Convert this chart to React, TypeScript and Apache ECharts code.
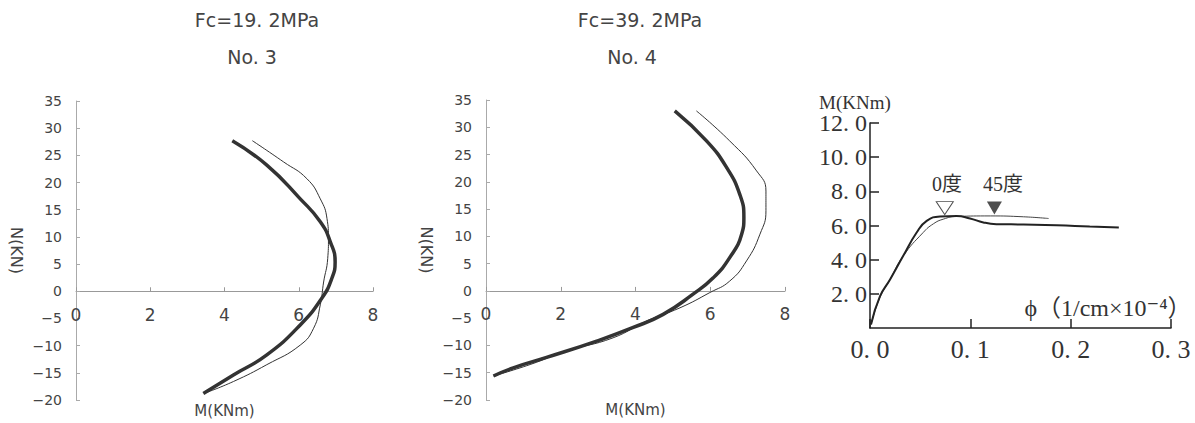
import React, { useEffect, useRef } from "react";
import * as echarts from "echarts";

// No. 3 (Fc=19.2MPa) : M(KNm) vs N(KN)
const no3ThickM = [3.43, 4.24, 5.14, 6.04, 6.62, 6.89, 6.98, 6.85, 6.58, 6.04, 5.14, 4.21];
const no3ThickN = [-18.8, -15.4, -11.7, -6.2, -1.3, 2.35, 5.4, 9.1, 12.8, 17.0, 23.2, 27.7];
const no3ThinM = [3.48, 4.24, 5.14, 6.04, 6.4, 6.58, 6.67, 6.78, 6.8, 6.76, 6.58, 6.22, 5.59, 4.75];
const no3ThinN = [-18.7, -16.6, -13.5, -9.9, -6.8, -2.5, 1.7, 6.0, 9.7, 13.4, 17.0, 20.7, 23.8, 27.7];

// No. 4 (Fc=39.2MPa)
const no4ThickM = [0.2, 0.73, 1.62, 2.96, 3.94, 4.74, 5.54, 6.08, 6.52, 6.84, 6.9, 6.79, 6.44, 5.9, 5.05];
const no4ThickN = [-15.6, -14.1, -12.2, -9.2, -6.7, -4.3, -0.6, 2.4, 6.1, 10.4, 13.5, 17.7, 22.6, 27.5, 33.0];
const no4ThinM = [0.2, 1.18, 2.16, 3.4, 4.3, 5.19, 5.99, 6.52, 6.97, 7.33, 7.49, 7.49, 7.24, 6.52, 5.63];
const no4ThinN = [-15.6, -13.5, -11.0, -8.6, -5.5, -3.1, -0.3, 1.8, 5.5, 10.4, 14.7, 18.3, 22.0, 27.5, 33.0];

// Moment - curvature
const mcThickPhi = [0.001, 0.01, 0.02, 0.033, 0.0465, 0.0565, 0.0698, 0.0864, 0.0997, 0.113, 0.126, 0.153, 0.186, 0.219, 0.248];
const mcThickM = [0.2, 1.86, 2.84, 4.21, 5.59, 6.27, 6.53, 6.56, 6.41, 6.18, 6.08, 6.06, 6.02, 5.94, 5.88];
const mcThinPhi = [0.001, 0.01, 0.02, 0.033, 0.053, 0.0632, 0.073, 0.0864, 0.12, 0.153, 0.178];
const mcThinM = [0.2, 1.8, 2.84, 4.21, 5.59, 6.1, 6.37, 6.53, 6.56, 6.51, 6.41];

const peak0Deg = [0.0745, 7.02];
const peak45Deg = [0.124, 7.02];

const titles = ["Fc=19. 2MPa", "No. 3", "Fc=39. 2MPa", "No. 4"];

const pairs = (xs: number[], ys: number[]) => xs.map((x, i) => [x, ys[i]]);

const SANS = "DejaVu Sans";
const SERIF = "Liberation Serif, DejaVu Serif, Noto Sans CJK JP";
const TXT = "#444";

const N_MIN = -20;
const N_MAX = 35;

export default function App() {
  const ref = useRef<HTMLDivElement>(null);
  useEffect(() => {
    if (!ref.current) return;
    const chart = echarts.init(ref.current, undefined, { renderer: "svg" });

    const grids = [
      { left: 76, top: 101, width: 297, height: 299 },
      { left: 486, top: 100, width: 299, height: 300 },
      { left: 870, top: 123, width: 301, height: 205 },
    ];

    // x axis drawn on the N = 0 line
    const zeroOffset = (gi: number) => -(grids[gi].height * (0 - N_MIN)) / (N_MAX - N_MIN);

    const nAxisX = (gi: number) => ({
      type: "value",
      gridIndex: gi,
      min: 0,
      max: 8,
      interval: 2,
      offset: zeroOffset(gi),
      name: "M(KNm)",
      nameLocation: "middle",
      nameGap: 112,
      nameTextStyle: { fontSize: 15, fontFamily: SANS, color: TXT },
      axisLine: { onZero: false, lineStyle: { color: "#999", width: 1 } },
      axisTick: { inside: true, length: 4, lineStyle: { color: "#999" } },
      axisLabel: { margin: 15, fontSize: 17, fontFamily: SANS, color: TXT },
      splitLine: { show: false },
    });
    const nAxisY = (gi: number) => ({
      type: "value",
      gridIndex: gi,
      min: N_MIN,
      max: N_MAX,
      interval: 5,
      name: "N(KN)",
      nameLocation: "middle",
      nameRotate: -90,
      nameGap: 52,
      nameTextStyle: { fontSize: 16, fontFamily: SANS, color: TXT },
      axisLine: { show: true, onZero: false, lineStyle: { color: "#aaa", width: 1 } },
      axisTick: { show: true, inside: true, length: 4, lineStyle: { color: "#aaa" } },
      axisLabel: {
        margin: 14,
        fontSize: 14,
        fontFamily: SANS,
        color: TXT,
        formatter: (v: number) => String(v).replace("-", "\u2212"),
      },
      splitLine: { show: false },
    });

    const lineS = (xi: number, data: number[][], w: number, color = "#333") => ({
      type: "line",
      xAxisIndex: xi,
      yAxisIndex: xi,
      data,
      smooth: true,
      showSymbol: false,
      symbol: "none",
      lineStyle: { width: w, color },
      z: w > 2 ? 3 : 2,
    });

    const gText = (text: string, x: number, y: number, fontSize: number, fontFamily: string, fill = TXT) => ({
      type: "text",
      x,
      y,
      style: { text, fontSize, fontFamily, fill, align: "center", verticalAlign: "middle" },
    });

    chart.setOption({
      animation: false,
      backgroundColor: "#fff",
      grid: grids.map((g) => ({ ...g, outerBoundsMode: "none", containLabel: false })),
      xAxis: [
        nAxisX(0),
        nAxisX(1),
        {
          type: "value",
          gridIndex: 2,
          min: 0,
          max: 0.3,
          interval: 0.1,
          axisLine: { lineStyle: { color: "#222", width: 1.5 } },
          axisTick: { inside: true, length: 9, lineStyle: { color: "#222", width: 1.5 } },
          axisLabel: {
            margin: 8,
            fontSize: 26,
            fontFamily: SERIF,
            color: "#333",
            formatter: (v: number) => v.toFixed(1).replace(".", ". "),
          },
          splitLine: { show: false },
        },
      ],
      yAxis: [
        nAxisY(0),
        nAxisY(1),
        {
          type: "value",
          gridIndex: 2,
          min: 0,
          max: 12,
          interval: 2,
          axisLine: { show: true, lineStyle: { color: "#222", width: 1.5 } },
          axisTick: { show: true, inside: true, length: 9, lineStyle: { color: "#222", width: 1.5 } },
          axisLabel: {
            margin: 3,
            fontSize: 24,
            fontFamily: SERIF,
            color: "#333",
            showMinLabel: false,
            formatter: (v: number) => (v === 0 ? "" : v.toFixed(1).replace(".", ". ")),
          },
          splitLine: { show: false },
        },
      ],
      series: [
        lineS(0, pairs(no3ThinM, no3ThinN), 1),
        lineS(0, pairs(no3ThickM, no3ThickN), 3.5),
        lineS(1, pairs(no4ThinM, no4ThinN), 1),
        lineS(1, pairs(no4ThickM, no4ThickN), 3.5),
        lineS(2, pairs(mcThinPhi, mcThinM), 1, "#444"),
        lineS(2, pairs(mcThickPhi, mcThickM), 2, "#222"),
        {
          type: "scatter",
          xAxisIndex: 2,
          yAxisIndex: 2,
          data: [peak0Deg],
          symbol: "triangle",
          symbolRotate: 180,
          symbolSize: [17, 13],
          itemStyle: { color: "#fff", borderColor: "#222", borderWidth: 1 },
          z: 5,
        },
        {
          type: "scatter",
          xAxisIndex: 2,
          yAxisIndex: 2,
          data: [peak45Deg],
          symbol: "triangle",
          symbolRotate: 180,
          symbolSize: [15, 13],
          itemStyle: { color: "#222" },
          z: 5,
        },
      ],
      graphic: [
        gText(titles[0], 257, 20, 19, SANS),
        gText(titles[1], 252, 57, 19, SANS),
        gText(titles[2], 640, 20, 19, SANS),
        gText(titles[3], 632, 57, 19, SANS),
        gText("M(KNm)", 855, 102, 19, SERIF, "#333"),
        gText("\u03d5\uff081/cm\u00d710\u207b\u2074\uff09", 1108, 308, 24, SERIF, "#333"),
        gText("0度", 947, 184, 20, SERIF, "#333"),
        gText("45度", 1003, 184, 20, SERIF, "#333"),
      ],
    });
    return () => chart.dispose();
  }, []);
  return (
    <div
      ref={ref}
      style={{ position: "absolute", left: 0, top: 0, width: 1195, height: 423 }}
    />
  );
}
